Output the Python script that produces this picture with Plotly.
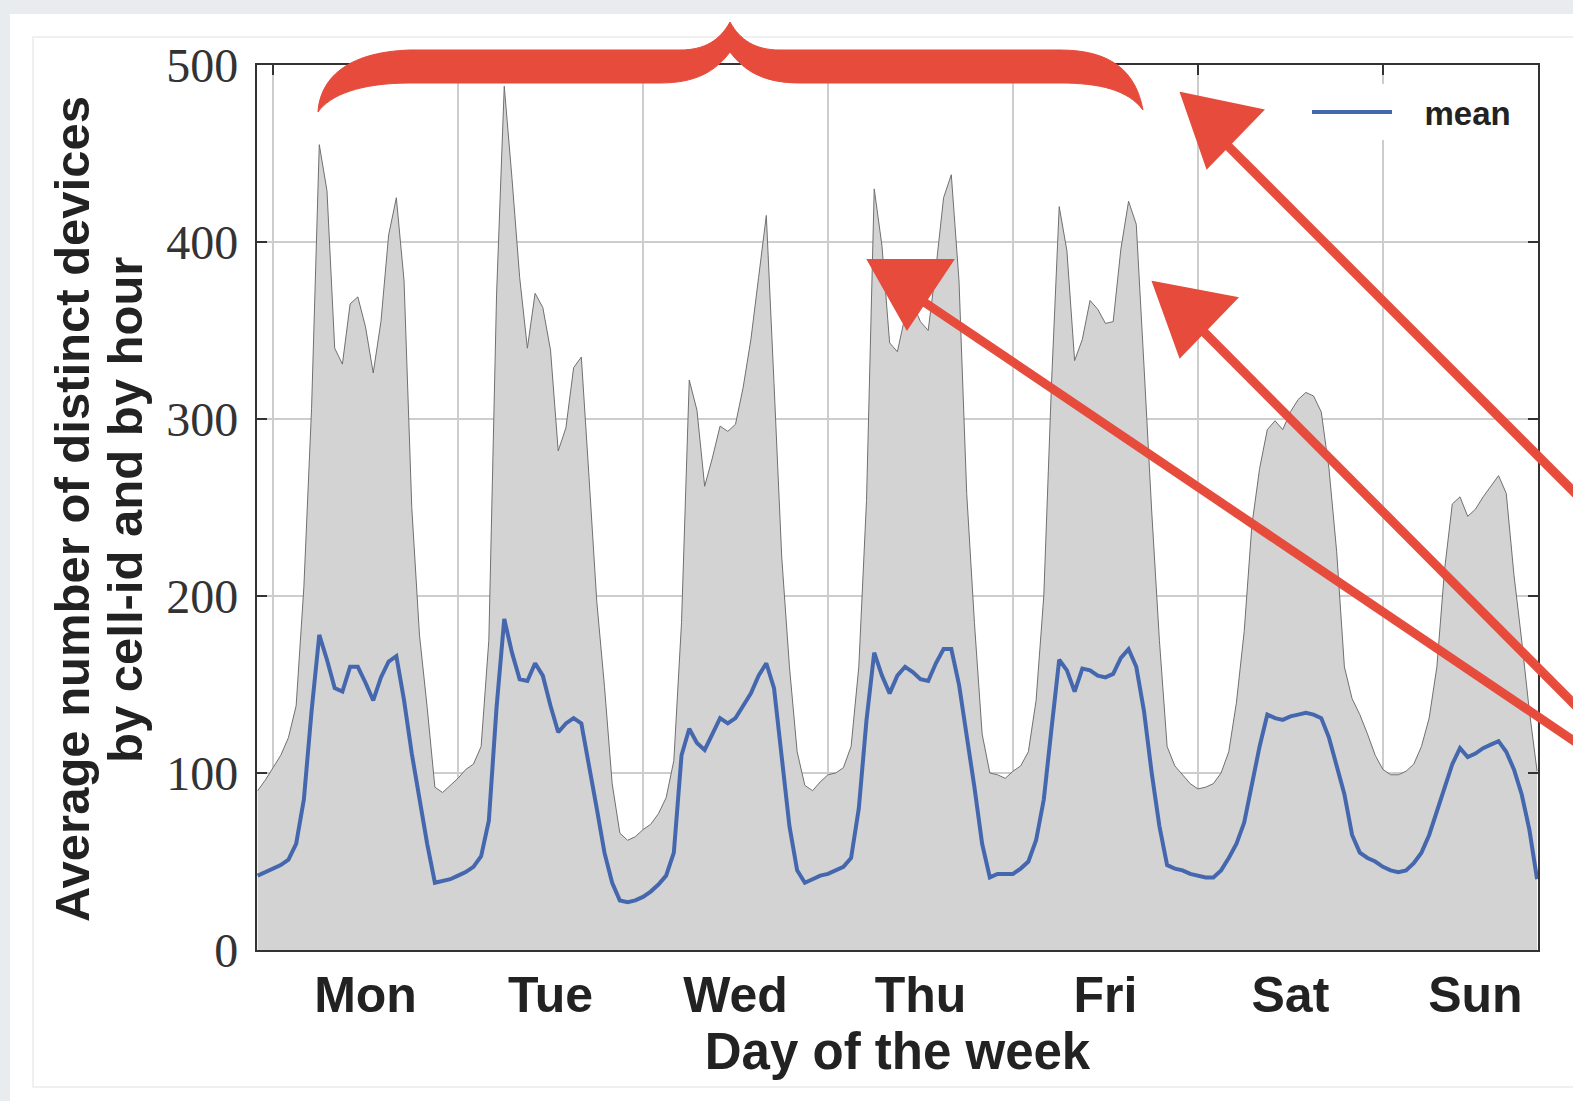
import plotly.graph_objects as go

# ---- data: hourly values, hour 0 = Monday 00:00 ----
hours = list(range(-2, 165))

upper_envelope = [
    90, 96,
    103, 110, 120, 138, 205, 306, 455, 429, 340, 331, 365, 369, 352, 326, 355, 404, 425, 378, 250, 178, 137, 92, 89, 93,
    97, 102, 105, 115, 175, 370, 488, 436, 380, 340, 371, 363, 339, 282, 295, 329, 335, 267, 197, 149, 94, 66, 62, 64,
    68, 71, 77, 86, 107, 185, 322, 305, 262, 278, 296, 293, 297, 318, 345, 380, 415, 320, 222, 160, 112, 93, 90, 95,
    99, 100, 103, 115, 160, 254, 430, 398, 343, 338, 358, 365, 355, 350, 385, 425, 438, 378, 258, 185, 122, 100, 99, 97,
    101, 104, 112, 141, 200, 320, 420, 395, 333, 345, 367, 362, 354, 355, 396, 423, 410, 330, 248, 175, 115, 104, 99, 94,
    91, 92, 94, 100, 112, 140, 180, 240, 272, 294, 299, 294, 304, 311, 315, 313, 304, 272, 225, 160, 142, 133, 122, 110,
    102, 99, 99, 101, 105, 115, 131, 160, 215, 252, 256, 245, 249, 256, 262, 268, 258, 212, 175, 135, 101,
]

mean_devices = [
    42, 44,
    46, 48, 51, 60, 85, 135, 178, 164, 148, 146, 160, 160, 151, 141, 154, 163, 166, 141, 111, 85, 60, 38, 39, 40,
    42, 44, 47, 53, 73, 137, 187, 168, 153, 152, 162, 155, 138, 123, 128, 131, 128, 105, 80, 55, 38, 28, 27, 28,
    30, 33, 37, 42, 55, 110, 125, 117, 113, 122, 131, 128, 131, 138, 145, 155, 162, 148, 110, 70, 45, 38, 40, 42,
    43, 45, 47, 52, 80, 130, 168, 155, 145, 155, 160, 157, 153, 152, 162, 170, 170, 150, 122, 92, 60, 41, 43, 43,
    43, 46, 50, 62, 85, 125, 164, 158, 146, 159, 158, 155, 154, 156, 165, 170, 160, 135, 100, 70, 48, 46, 45, 43,
    42, 41, 41, 45, 52, 60, 72, 95, 115, 133, 131, 130, 132, 133, 134, 133, 131, 120, 103, 88, 65, 55, 52, 50,
    47, 45, 44, 45, 49, 55, 65, 78, 92, 105, 114, 109, 111, 114, 116, 118, 112, 102, 88, 68, 40,
]

day_names = ["Mon", "Tue", "Wed", "Thu", "Fri", "Sat", "Sun"]
day_starts = [24 * d for d in range(7)]
day_centres = [24 * d + 12 for d in range(7)]
y_ticks = [0, 100, 200, 300, 400, 500]

# ---- geometry ----
FIG_W, FIG_H = 1573, 1101
L, R, T, B = 257, 1538, 65, 950
X_RANGE = [-2.08, 164.12]
RED = "#e64b3b"


def px(x):
    return (x - L) / (R - L)


def py(y):
    return (B - y) / (B - T)


def path(points):
    return " ".join(points)


fig = go.Figure()

# envelope on the bottom (labelled) axis, mean on the top axis carrying the day grid
fig.add_trace(go.Scatter(
    x=hours, y=upper_envelope, mode="lines", fill="tozeroy", xaxis="x", yaxis="y",
    fillcolor="#d3d3d3", line=dict(color="#707070", width=1),
    showlegend=False, hoverinfo="skip",
))
fig.add_trace(go.Scatter(
    x=hours, y=mean_devices, mode="lines", name="\u00a0\u00a0\u00a0mean", xaxis="x2", yaxis="y",
    line=dict(color="#4567ae", width=4),
))

# ---- page framing ----
shapes = [
    dict(type="rect", xref="paper", yref="paper", layer="below",
         x0=px(0), x1=px(FIG_W), y0=py(0), y1=py(14),
         fillcolor="#e9ecee", line=dict(width=0)),
    dict(type="rect", xref="paper", yref="paper", layer="below",
         x0=px(0), x1=px(10), y0=py(0), y1=py(FIG_H),
         fillcolor="#e9ecee", line=dict(width=0)),
    dict(type="rect", xref="paper", yref="paper", layer="below",
         x0=px(33), x1=px(FIG_W + 5), y0=py(37), y1=py(1087),
         fillcolor="rgba(0,0,0,0)", line=dict(color="#ececec", width=1.5)),
]

# ---- red curly brace over the working days ----
def P(x, y):
    return f"{px(x):.5f},{py(y):.5f}"

brace = path([
    "M", P(318, 112),
    "C", P(320, 80), P(345, 52), P(410, 50),
    "L", P(680, 50),
    "C", P(705, 50), P(720, 40), P(730, 22),
    "C", P(740, 40), P(755, 50), P(780, 50),
    "L", P(1060, 50),
    "C", P(1112, 50), P(1136, 72), P(1143, 110),
    "C", P(1128, 90), P(1100, 83), P(1060, 83),
    "L", P(800, 83),
    "C", P(765, 83), P(745, 72), P(730, 52),
    "C", P(715, 72), P(695, 83), P(660, 83),
    "L", P(410, 83),
    "C", P(360, 83), P(330, 95), P(318, 112),
    "Z",
])
shapes.append(dict(type="path", xref="paper", yref="paper", path=brace,
                   fillcolor=RED, line=dict(color=RED, width=1)))

# ---- red arrows (shaft start, shaft end, head triangle) ----
arrows = [
    ((1228, 146), (1580, 498), [(1181, 93), (1263, 110), (1207, 168)]),
    ((924, 302), (1580, 745), [(868, 260), (953, 260), (907, 329)]),
    ((1203, 331), (1580, 710), [(1153, 282), (1237, 298), (1180, 357)]),
]
for (sx, sy), (ex, ey), head in arrows:
    for off, w in ((0, 6), (2.5, 2), (-2.5, 2)):
        shapes.append(dict(type="line", xref="paper", yref="paper",
                           x0=px(sx + off), y0=py(sy - off), x1=px(ex + off), y1=py(ey - off),
                           line=dict(color=RED, width=w)))
    tri = path(["M", P(*head[0]), "L", P(*head[1]), "L", P(*head[2]), "Z"])
    shapes.append(dict(type="path", xref="paper", yref="paper", path=tri,
                       fillcolor=RED, line=dict(color=RED, width=2)))

title_font = dict(family="Liberation Sans", size=49, color="#222", weight="bold")

annotations = [
    dict(text="Average number of distinct devices", xref="paper", yref="paper",
         x=px(72), y=py(509), textangle=-90, showarrow=False,
         xanchor="center", yanchor="middle", font=title_font),
    dict(text="by cell-id and by hour", xref="paper", yref="paper",
         x=px(125), y=py(510), textangle=-90, showarrow=False,
         xanchor="center", yanchor="middle", font=title_font),
]

fig.update_layout(
    width=FIG_W, height=FIG_H,
    margin=dict(l=L, r=FIG_W - R, t=T, b=FIG_H - B),
    paper_bgcolor="white", plot_bgcolor="white",
    shapes=shapes, annotations=annotations,
    xaxis=dict(
        range=X_RANGE, tickvals=day_centres, ticktext=day_names,
        ticks="", showgrid=False, zeroline=False,
        showline=True, mirror=True, linecolor="#333", linewidth=2.2,
        tickfont=dict(family="Liberation Sans", size=50, color="#222", weight="bold"),
        title=dict(text="Day of the week", font=dict(title_font, size=51), standoff=8),
    ),
    xaxis2=dict(
        overlaying="x", anchor="y", side="top", range=X_RANGE,
        tickvals=day_starts, ticks="inside", ticklen=10, tickwidth=2, tickcolor="#333",
        showticklabels=False, showgrid=True, gridcolor="#cdcdcd", gridwidth=1.6,
        zeroline=False, showline=False,
    ),
    yaxis=dict(
        range=[0, 500], tickvals=y_ticks, ticks="inside", ticklen=10, tickwidth=2,
        tickcolor="#333", showline=True, mirror="ticks", linecolor="#333", linewidth=2.2,
        showgrid=True, gridcolor="#cdcdcd", gridwidth=1.6, zeroline=False,
        tickfont=dict(family="Liberation Serif", size=48, color="#333"),
        ticklabelstandoff=7,
    ),
    legend=dict(
        x=px(1307), y=py(84), xanchor="left", yanchor="top",
        bgcolor="white", borderwidth=0, itemwidth=80,
        font=dict(family="Liberation Sans", size=33, color="#222", weight="bold"),
    ),
)

fig.write_html("out.html")
